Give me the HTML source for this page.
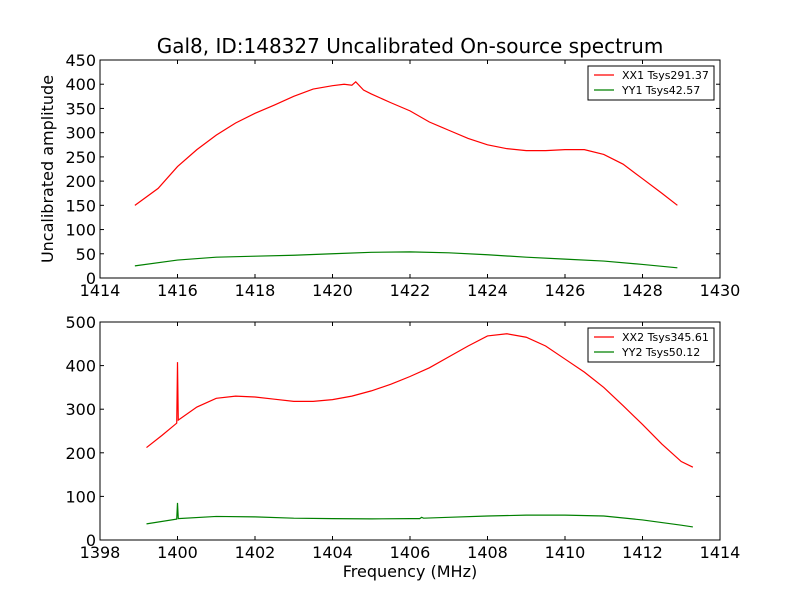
<!DOCTYPE html>
<html><head><meta charset="utf-8"><style>
body{margin:0;background:#fff}
svg{display:block;font-family:"DejaVu Sans","Liberation Sans",sans-serif}
</style></head><body>
<svg id="c" width="800" height="600"></svg>
<script>
const topX1=[1414.9,1415.5,1416,1416.5,1417,1417.5,1418,1418.5,1419,1419.5,1420,1420.3,1420.5,1420.6,1420.8,1421,1421.5,1422,1422.5,1423,1423.5,1424,1424.5,1425,1425.5,1426,1426.5,1427,1427.5,1428,1428.5,1428.9];
const topXX1=[150,185,230,265,295,320,340,357,375,390,397,400,398,405,388,380,362,345,322,305,288,275,267,263,263,265,265,255,235,205,175,150];
const topX2=[1414.9,1416,1417,1418,1419,1420,1421,1422,1423,1424,1425,1426,1427,1428,1428.9];
const topYY1=[25,37,43,45,47,50,53,54,52,48,43,39,35,28,21];
const botX1=[1399.2,1399.6,1399.98,1400.0,1400.02,1400.5,1401,1401.5,1402,1402.5,1403,1403.5,1404,1404.5,1405,1405.5,1406,1406.5,1407,1407.5,1408,1408.5,1409,1409.5,1410,1410.5,1411,1411.5,1412,1412.5,1413,1413.3];
const botXX2=[212,240,268,408,275,305,325,330,328,323,318,318,322,330,342,357,375,395,420,445,468,473,465,445,415,385,350,308,265,220,180,167];
const botX2=[1399.2,1399.98,1400.0,1400.02,1401,1402,1403,1404,1405,1406,1406.25,1406.3,1406.35,1407,1408,1409,1410,1411,1412,1413,1413.3];
const botYY2=[37,48,85,49,54,53,50,49,48.5,49,49,52,50,52,55,57,57,55,46,34,30];
const topTicksX=[1414,1416,1418,1420,1422,1424,1426,1428,1430];
const topTicksY=[0,50,100,150,200,250,300,350,400,450];
const botTicksX=[1398,1400,1402,1404,1406,1408,1410,1412,1414];
const botTicksY=[0,100,200,300,400,500];
const svg=document.getElementById('c');const NS='http://www.w3.org/2000/svg';
function mk(t,a,p){const e=document.createElementNS(NS,t);for(const k in a)e.setAttribute(k,a[k]);(p||svg).appendChild(e);return e;}
function panel(name,L,R,T,B,x0,x1,y0,y1,tx,ty,series,legend){
  const g=mk('g',{});
  
  
  const sx=v=>L+(v-x0)/(x1-x0)*(R-L), sy=v=>B-(v-y0)/(y1-y0)*(B-T);
  series.forEach(s=>{
    const p=mk('polyline',{points:s.x.map((x,i)=>sx(x)+','+sy(s.y[i])).join(' '),fill:'none',stroke:s.c,'stroke-width':1.2},g);
    
    
  });
  const fr=mk('rect',{x:L,y:T,width:R-L,height:B-T,fill:'none',stroke:'#000'},g);
  
  
  tx.forEach(v=>{const x=sx(v);mk('line',{x1:x,x2:x,y1:B,y2:B-4,stroke:'#000'},g);mk('line',{x1:x,x2:x,y1:T,y2:T+4,stroke:'#000'},g);
    const t=mk('text',{x:x,y:B+18,'text-anchor':'middle','font-size':16},g);t.textContent=v;
    
    });
  ty.forEach(v=>{const y=sy(v);mk('line',{x1:L,x2:L+4,y1:y,y2:y,stroke:'#000'},g);mk('line',{x1:R,x2:R-4,y1:y,y2:y,stroke:'#000'},g);
    const t=mk('text',{x:L-4,y:y+6,'text-anchor':'end','font-size':16},g);t.textContent=v;
    
    });
  const lg=mk('g',{},g);
  
  
  mk('rect',{x:legend.x,y:legend.y,width:126,height:34,fill:'#fff',stroke:'#000'},lg);
  series.forEach((s,i)=>{const y=legend.y+9+i*15;
    mk('line',{x1:legend.x+6,x2:legend.x+26,y1:y,y2:y,stroke:s.c,'stroke-width':1.2},lg);
    const t=mk('text',{x:legend.x+34,y:y+4,'font-size':11},lg);t.textContent=s.label;
    
    });
}
panel('top-panel',100,720,60,278,1414,1430,0,450,topTicksX,topTicksY,
 [{x:topX1,y:topXX1,c:'#ff0000',n:'xx1-line',label:'XX1 Tsys291.37'},{x:topX2,y:topYY1,c:'#008000',n:'yy1-line',label:'YY1 Tsys42.57'}],{x:588,y:66});
panel('bottom-panel',100,720,322,540,1398,1414,0,500,botTicksX,botTicksY,
 [{x:botX1,y:botXX2,c:'#ff0000',n:'xx2-line',label:'XX2 Tsys345.61'},{x:botX2,y:botYY2,c:'#008000',n:'yy2-line',label:'YY2 Tsys50.12'}],{x:588,y:328});
let t=mk('text',{x:410,y:53,'text-anchor':'middle','font-size':20});t.textContent='Gal8, ID:148327 Uncalibrated On-source spectrum';


t=mk('text',{x:410,y:577,'text-anchor':'middle','font-size':16});t.textContent='Frequency (MHz)';


t=mk('text',{x:0,y:0,'text-anchor':'middle','font-size':16,transform:'translate(53,169) rotate(-90)'});t.textContent='Uncalibrated amplitude';


</script>
</body></html>
